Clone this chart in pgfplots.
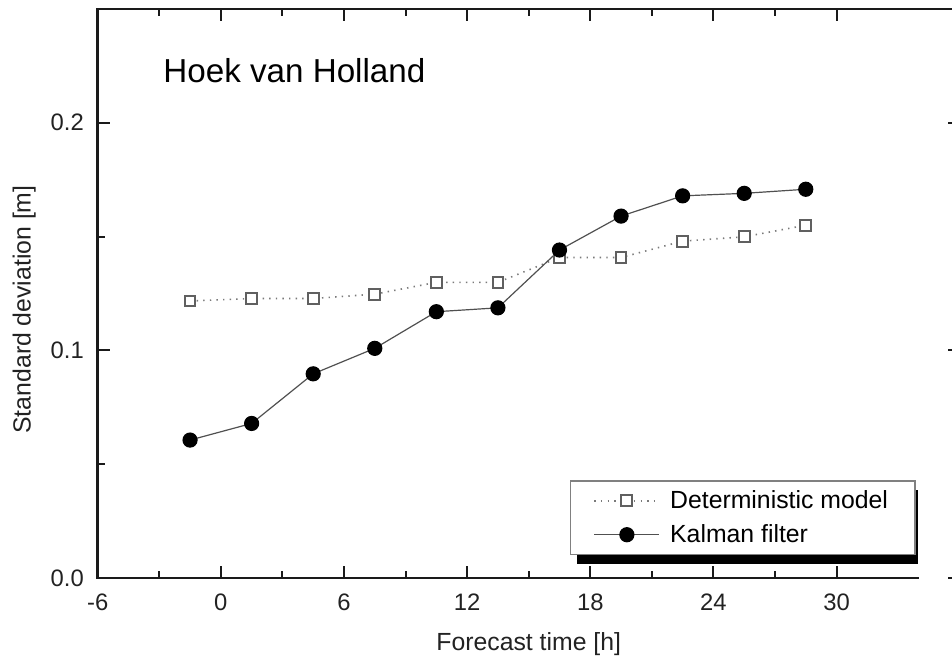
\documentclass[border=0pt]{standalone}
\usepackage{fontspec}
\setmainfont{Liberation Sans}
\usepackage{pgfplots}
\pgfplotsset{compat=1.18}

\definecolor{spinecol}{HTML}{1A1A1A}
\definecolor{detline}{HTML}{7A7A7A}
\definecolor{detmark}{HTML}{606060}
\definecolor{kalline}{HTML}{505050}
\definecolor{labelcol}{HTML}{222222}

\begin{document}
\begin{tikzpicture}
\begin{axis}[
  scale only axis,
  width=431pt, height=284.5pt,
  xmin=-6, xmax=36,
  ymin=0, ymax=0.25,
  clip=false,
  axis line style={draw=none},
  xtick={-6,0,6,12,18,24,30},
  xticklabels={-6,0,6,12,18,24,30},
  ytick={0,0.1,0.2},
  yticklabels={0.0,0.1,0.2},
  minor x tick num=1,
  minor y tick num=1,
  tick align=inside,
  major tick length=6pt,
  minor tick length=3.5pt,
  every tick/.style={spinecol, line width=1pt},
  ticklabel style={font=\fontsize{11.9}{13}\selectfont, text=labelcol},
  xticklabel style={yshift=-4.5pt},
  yticklabel style={xshift=-3.4pt},
  every axis x label/.style={at={(rel axis cs:0.5,0)}, anchor=center,
    yshift=-33pt, font=\fontsize{12.4}{14}\selectfont, text=labelcol},
  every axis y label/.style={at={(rel axis cs:0,0.5)}, anchor=center,
    shift={(-36.8pt,-8pt)}, rotate=90, font=\fontsize{12.4}{14}\selectfont, text=labelcol},
  xlabel={Forecast time [h]},
  ylabel={Standard deviation [m]},
  legend image code/.code={
    \draw[mark repeat=2,mark phase=2,#1]
      plot coordinates {(0pt,0pt) (16.25pt,0pt) (32.5pt,0pt)};
  },
  legend style={
    at={(rel axis cs:0.5479,0.0404)}, anchor=south west,
    draw=gray, line width=0.6pt, fill=white,
    inner xsep=11.5pt, inner ysep=2.6pt,
    column sep=3pt, row sep=2.5pt,
    font=\fontsize{12.4}{14}\selectfont,
    cells={anchor=west},
  },
]

\coordinate (bl) at (rel axis cs:0,0);

% frame: left, top and a shortened bottom line
\draw[spinecol, line width=1.3pt] (axis cs:34,0) -- (rel axis cs:0,0)
  -- (rel axis cs:0,1) -- (rel axis cs:1,1);

% solid shadow behind the legend box
\fill[black] ([shift={(3.5pt,-4.5pt)}]rel axis cs:0.5479,0.0404)
  rectangle ([shift={(174pt,32.5pt)}]rel axis cs:0.5479,0.0404);

\addplot[detline, line width=0.8pt, dash pattern=on 0.7pt off 2.6pt,
  mark=square*, mark size=2.7pt,
  mark options={solid, fill=white, draw=detmark, line width=1pt}]
  coordinates {
  (-1.5,0.1217) (1.5,0.1228) (4.5,0.1228) (7.5,0.1247) (10.5,0.1299)
  (13.5,0.1299) (16.5,0.1408) (19.5,0.1408) (22.5,0.1480) (25.5,0.1499)
  (28.5,0.1550)
  };
\addlegendentry{Deterministic model}

\addplot[kalline, line width=0.6pt,
  mark=*, mark size=3.5pt,
  mark options={solid, fill=black, draw=black}]
  coordinates {
  (-1.5,0.0606) (1.5,0.0679) (4.5,0.0897) (7.5,0.1009) (10.5,0.1170)
  (13.5,0.1187) (16.5,0.1441) (19.5,0.1590) (22.5,0.1679) (25.5,0.1690)
  (28.5,0.1708)
  };
\addlegendentry{Kalman filter}

\node[anchor=base west, font=\fontsize{16.6}{20}\selectfont, inner sep=0pt]
  at (axis cs:-2.82,0.2178) {Hoek van Holland};
\end{axis}
\pgfresetboundingbox
\path[use as bounding box] ([shift={(-48.85pt,-42pt)}]bl)
  rectangle ([shift={(427.15pt,289pt)}]bl);
\end{tikzpicture}
\end{document}
